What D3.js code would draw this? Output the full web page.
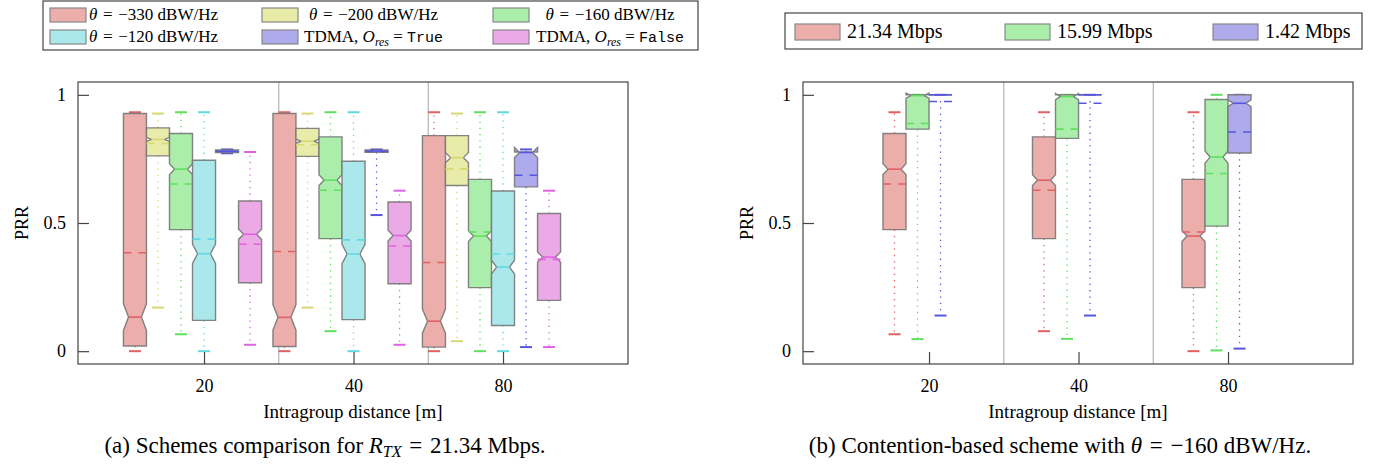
<!DOCTYPE html>
<html>
<head>
<meta charset="utf-8">
<script src="https://cdn.jsdelivr.net/npm/d3@7"></script>
<style>
body { margin: 0; background: #fff; }
text { font-family: "Liberation Serif", "Times New Roman", serif; fill: #000; }
</style>
</head>
<body>
<script>
// x categories
const groups = ["20", "40", "80"];
const yTicks = [0, 0.5, 1];
const yTickLabels = ["0", "0.5", "1"];

// one row per group: [whiskerLow, q1, median, q3, whiskerHigh, mean, notch]
const theta330 = [[0.0, 0.02, 0.133, 0.927, 0.932, 0.384, 0.052],
                  [0.0, 0.018, 0.132, 0.927, 0.932, 0.389, 0.05],
                  [0.0, 0.016, 0.117, 0.841, 0.932, 0.346, 0.047]];
const theta200 = [[0.17, 0.762, 0.826, 0.871, 0.927, 0.81, 0.008],
                  [0.17, 0.76, 0.819, 0.869, 0.927, 0.805, 0.008],
                  [0.039, 0.646, 0.755, 0.841, 0.927, 0.711, 0.02]];
const theta160 = [[0.066, 0.474, 0.71, 0.849, 0.932, 0.652, 0.021],
                  [0.078, 0.439, 0.667, 0.836, 0.932, 0.628, 0.021],
                  [0.0, 0.248, 0.449, 0.67, 0.932, 0.465, 0.021]];
const theta120 = [[0.0, 0.12, 0.38, 0.745, 0.932, 0.437, 0.038],
                  [0.0, 0.123, 0.379, 0.741, 0.932, 0.434, 0.038],
                  [0.0, 0.1, 0.328, 0.625, 0.932, 0.379, 0.027]];
const tdmaTrue = [[0.772, 0.775, 0.78, 0.785, 0.787, 0.779, 0.002],
                  [0.531, 0.776, 0.781, 0.785, 0.787, 0.779, 0.002],
                  [0.016, 0.641, 0.775, 0.777, 0.787, 0.686, 0.02]];
const tdmaFalse = [[0.025, 0.267, 0.456, 0.586, 0.777, 0.417, 0.02],
                   [0.025, 0.263, 0.451, 0.582, 0.626, 0.41, 0.021],
                   [0.016, 0.198, 0.367, 0.537, 0.626, 0.358, 0.02]];

const rate2134 = [[0.066, 0.474, 0.71, 0.849, 0.932, 0.652, 0.021],
                  [0.078, 0.439, 0.667, 0.836, 0.932, 0.628, 0.021],
                  [0.0, 0.248, 0.449, 0.67, 0.932, 0.465, 0.021]];
const rate1599 = [[0.047, 0.866, 0.997, 1.0, 1.0, 0.888, 0.01],
                  [0.048, 0.83, 0.993, 1.0, 1.0, 0.866, 0.012],
                  [0.003, 0.488, 0.757, 0.982, 1.0, 0.693, 0.024]];
const rate142 = [[0.139, 1.0, 1.0, 1.0, 1.0, 0.974, 0],
                 [0.139, 1.0, 1.0, 1.0, 1.0, 0.967, 0],
                 [0.01, 0.773, 0.967, 1.0, 1.0, 0.855, 0.013]];

const fills = { red: "#ecaeaa", yellow: "#e9eba9", green: "#abedab", cyan: "#abe8ec", blue: "#aeabec", magenta: "#eba9e6" };
const lines = { red: "#e06262", yellow: "#d8d872", green: "#5fe05f", cyan: "#62d8e2", blue: "#5656e0", magenta: "#e062e0" };

// legend labels: pieces of [text, style]
const legendA = [
  [["θ", "i"], ["\u2004=\u2004−330 dBW/Hz", ""]],
  [["θ", "i"], ["\u2004=\u2004−200 dBW/Hz", ""]],
  [["θ", "i"], ["\u2004=\u2004−160 dBW/Hz", ""]],
  [["θ", "i"], ["\u2004=\u2004−120 dBW/Hz", ""]],
  [["TDMA, ", ""], ["O", "i"], ["res", "sub"], [" = ", ""], ["True", "tt"]],
  [["TDMA, ", ""], ["O", "i"], ["res", "sub"], [" = ", ""], ["False", "tt"]]
];
const legendB = ["21.34 Mbps", "15.99 Mbps", "1.42 Mbps"];

const svg = d3.select("body").append("svg")
    .attr("width", 1376)
    .attr("height", 466);

function richText(sel, parts) {
  let shifted = false;
  parts.forEach(p => {
    const t = sel.append("tspan").text(p[0]);
    if (p[1] == "i" || p[1] == "sub") t.attr("font-style", "italic");
    if (p[1] == "tt") t.attr("font-family", "'Liberation Mono', monospace").attr("font-size", "0.88em");
    if (p[1] == "sub") { t.attr("font-size", "0.7em").attr("dy", 4); shifted = true; }
    else if (shifted) { t.attr("dy", -4); shifted = false; }
  });
}

function panel(left, series, colors) {
  const x = d3.scaleLinear().domain([0.157, 3.836]).range([left, left + 550]);
  const y = d3.scaleLinear().domain([-0.05, 1.05]).range([364, 82]);
  const g = svg.append("g");
  const bw = x(1.154) - x(1);
  const n = series.length;

  [1.5, 2.5].forEach(s => {
    g.append("line")
      .attr("x1", x(s)).attr("x2", x(s))
      .attr("y1", 82).attr("y2", 364)
      .attr("stroke", "#b4b4b4").attr("stroke-width", 1.2);
  });

  series.forEach((data, i) => {
    const fill = fills[colors[i]], col = lines[colors[i]];
    data.forEach((d, j) => {
      const cx = x(j + 1 + (i - n / 2) * 0.154);
      const L = cx - bw / 2, R = cx + bw / 2;
      const iL = cx - bw * 0.28, iR = cx + bw * 0.28;
      const [lo, q1, med, q3, hi, mean, notch] = d;

      // whiskers
      g.append("line").attr("x1", cx).attr("x2", cx).attr("y1", y(q3)).attr("y2", y(hi))
        .attr("stroke", col).attr("stroke-width", 1.3).attr("stroke-dasharray", "1.3,5");
      g.append("line").attr("x1", cx).attr("x2", cx).attr("y1", y(q1)).attr("y2", y(lo))
        .attr("stroke", col).attr("stroke-width", 1.3).attr("stroke-dasharray", "1.3,5");
      [lo, hi].forEach(c => {
        g.append("line").attr("x1", cx - 6).attr("x2", cx + 6).attr("y1", y(c)).attr("y2", y(c))
          .attr("stroke", col).attr("stroke-width", 2);
      });

      // notched box
      let pts;
      if (notch > 0) {
        pts = [[L, q1], [L, med - notch], [iL, med], [L, med + notch], [L, q3],
               [R, q3], [R, med + notch], [iR, med], [R, med - notch], [R, q1]];
      } else {
        pts = [[L, q1], [L, q3], [R, q3], [R, q1]];
      }
      g.append("path")
        .attr("d", d3.line()(pts.map(p => [p[0], y(p[1])])) + "Z")
        .attr("fill", fill)
        .attr("stroke", "#777").attr("stroke-opacity", 0.9).attr("stroke-width", 1.4);

      // median and mean
      const mx = notch > 0 ? [iL, iR] : [L, R];
      g.append("line").attr("x1", mx[0]).attr("x2", mx[1]).attr("y1", y(med)).attr("y2", y(med))
        .attr("stroke", col).attr("stroke-width", 1.6);
      g.append("line").attr("x1", L).attr("x2", R).attr("y1", y(mean)).attr("y2", y(mean))
        .attr("stroke", col).attr("stroke-width", 1.6).attr("stroke-dasharray", "8,7");
    });
  });

  // frame
  g.append("rect").attr("x", left).attr("y", 82).attr("width", 550).attr("height", 282)
    .attr("fill", "none").attr("stroke", "#444").attr("stroke-width", 1.2);

  const ya = g.append("g").attr("transform", `translate(${left},0)`)
    .call(d3.axisLeft(y).tickValues(yTicks).tickFormat((d, k) => yTickLabels[k]).tickSize(-11).tickPadding(12));
  const xa = g.append("g").attr("transform", "translate(0,364)")
    .call(d3.axisBottom(x).tickValues([1, 2, 3]).tickFormat((d, k) => groups[k]).tickSize(-12).tickPadding(15));
  [ya, xa].forEach(a => {
    a.select(".domain").remove();
    a.selectAll(".tick line").attr("stroke", "#444").attr("stroke-width", 1.2);
    a.selectAll("text").attr("font-family", "'Liberation Serif', serif").attr("font-size", 18).attr("fill", "#000");
  });

  g.append("text").attr("x", left + 275).attr("y", 418).attr("text-anchor", "middle")
    .attr("font-size", 19).text("Intragroup distance [m]");
  g.append("text").attr("transform", `translate(${left - 50},223) rotate(-90)`)
    .attr("text-anchor", "middle").attr("font-size", 18).text("PRR");
}

panel(78, [theta330, theta200, theta160, theta120, tdmaTrue, tdmaFalse],
      ["red", "yellow", "green", "cyan", "blue", "magenta"]);
panel(803, [rate2134, rate1599, rate142], ["red", "green", "blue"]);

// legend (a)
const legColorsA = ["red", "yellow", "green", "cyan", "blue", "magenta"];
const legA = svg.append("g");
legA.append("rect").attr("x", 43).attr("y", 1).attr("width", 655).attr("height", 49)
  .attr("fill", "#fff").attr("stroke", "#444").attr("stroke-width", 1.2);
const swX = [50, 262, 493], txX = [153.5, 373.5, 610];
legendA.forEach((parts, k) => {
  const c = k % 3, r = Math.floor(k / 3);
  legA.append("rect").attr("x", swX[c]).attr("y", 8 + r * 22).attr("width", 36).attr("height", 14)
    .attr("fill", fills[legColorsA[k]]).attr("stroke", "#888").attr("stroke-width", 1.2);
  const t = legA.append("text").attr("x", txX[c]).attr("y", 20 + r * 22)
    .attr("text-anchor", "middle").attr("font-size", 17);
  richText(t, parts);
});

// legend (b)
const legColorsB = ["red", "green", "blue"];
const legB = svg.append("g");
legB.append("rect").attr("x", 785).attr("y", 13).attr("width", 577).attr("height", 36)
  .attr("fill", "#fff").attr("stroke", "#444").attr("stroke-width", 1.2);
const swXB = [795, 1005, 1213];
legendB.forEach((lab, k) => {
  legB.append("rect").attr("x", swXB[k]).attr("y", 24).attr("width", 45).attr("height", 16)
    .attr("fill", fills[legColorsB[k]]).attr("stroke", "#888").attr("stroke-width", 1.2);
  legB.append("text").attr("x", swXB[k] + 52).attr("y", 38).attr("font-size", 20).text(lab);
});

// captions
const capA = svg.append("text").attr("x", 325).attr("y", 453).attr("text-anchor", "middle").attr("font-size", 23);
richText(capA, [["(a) Schemes comparison for ", ""], ["R", "i"], ["TX", "sub"], ["\u2004=\u200421.34 Mbps.", ""]]);
const capB = svg.append("text").attr("x", 1060).attr("y", 453).attr("text-anchor", "middle").attr("font-size", 23);
richText(capB, [["(b) Contention-based scheme with ", ""], ["θ", "i"], ["\u2004=\u2004−160 dBW/Hz.", ""]]);
</script>
</body>
</html>
